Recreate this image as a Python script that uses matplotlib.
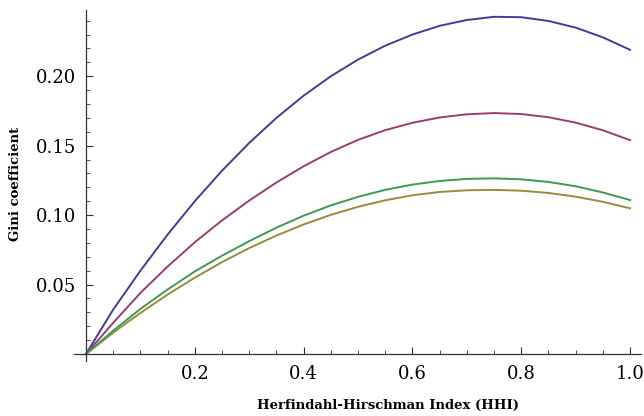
import numpy as np
import matplotlib
matplotlib.use("Agg")
import matplotlib.pyplot as plt
from matplotlib.ticker import MultipleLocator, FixedLocator

# HHI values along the x axis
hhi = [0.0, 0.05, 0.1, 0.15, 0.2, 0.25, 0.3, 0.35, 0.4, 0.45, 0.5,
       0.55, 0.6, 0.65, 0.7, 0.75, 0.8, 0.85, 0.9, 0.95, 1.0]

# Gini coefficient curves
gini_blue = [0.0, 0.0320, 0.0600, 0.0860, 0.1100, 0.1320, 0.1520, 0.1700, 0.1860, 0.2000, 0.2120,
             0.2220, 0.2300, 0.2363, 0.2405, 0.2428, 0.2425, 0.2398, 0.2350, 0.2280, 0.2190]
gini_purple = [0.0, 0.0225, 0.0440, 0.0630, 0.0805, 0.0962, 0.1105, 0.1235, 0.1352, 0.1455, 0.1542,
               0.1612, 0.1665, 0.1703, 0.1726, 0.1735, 0.1728, 0.1705, 0.1666, 0.1611, 0.1540]
gini_green = [0.0, 0.0168, 0.0325, 0.0465, 0.0595, 0.0708, 0.0813, 0.0910, 0.0996, 0.1070, 0.1132,
              0.1182, 0.1220, 0.1246, 0.1261, 0.1265, 0.1258, 0.1239, 0.1208, 0.1163, 0.1109]
gini_olive = [0.0, 0.0154, 0.0296, 0.0428, 0.0550, 0.0662, 0.0763, 0.0853, 0.0933, 0.1002, 0.1060,
              0.1107, 0.1143, 0.1167, 0.1179, 0.1182, 0.1176, 0.1160, 0.1133, 0.1096, 0.1049]

series = [(gini_blue, "#3d3d99"), (gini_purple, "#993d71"),
          (gini_olive, "#998b3d"), (gini_green, "#3d9956")]

x_ticks = [0.2, 0.4, 0.6, 0.8, 1.0]
y_ticks = [0.05, 0.10, 0.15, 0.20]

plt.rcParams['font.family'] = ['DejaVu Serif']

fig = plt.figure(figsize=(6.44, 4.16), dpi=100)
ax = fig.add_axes([0.1149, 0.1322, 0.8804, 0.8438])

for ys, col in series:
    ax.plot(hhi, ys, color=col, lw=1.4, solid_joinstyle='round')

ax.set_xlim(-0.022, 1.02)
ax.set_ylim(-0.005, 0.2477)

for s in ['top', 'right']:
    ax.spines[s].set_visible(False)
ax.spines['left'].set_position(('data', 0))
ax.spines['bottom'].set_position(('data', 0))
for s in ['left', 'bottom']:
    ax.spines[s].set_linewidth(0.9)
    ax.spines[s].set_color('#333333')

ax.xaxis.set_major_locator(FixedLocator(x_ticks))
ax.xaxis.set_minor_locator(MultipleLocator(0.05))
ax.yaxis.set_major_locator(FixedLocator(y_ticks))
ax.yaxis.set_minor_locator(MultipleLocator(0.01))
ax.set_xticklabels([f"{v:.1f}" for v in x_ticks])
ax.set_yticklabels([f"{v:.2f}" for v in y_ticks])

ax.tick_params(which='major', direction='in', length=5, width=0.8, colors='#333333',
               labelsize=13, labelcolor='black')
ax.tick_params(which='minor', direction='in', length=3, width=0.6, colors='#333333')
ax.tick_params(axis='x', which='major', pad=8)
ax.tick_params(axis='y', which='major', pad=7)

fig.text(388 / 644, 1 - 405 / 416, "Herfindahl-Hirschman Index (HHI)",
         ha='center', va='center', fontsize=9.5, fontweight='bold')
fig.text(16 / 644, 1 - 184 / 416, "Gini coefficient", rotation=90,
         ha='center', va='center', fontsize=9.5, fontweight='bold')

fig.savefig("out.png", dpi=100)
